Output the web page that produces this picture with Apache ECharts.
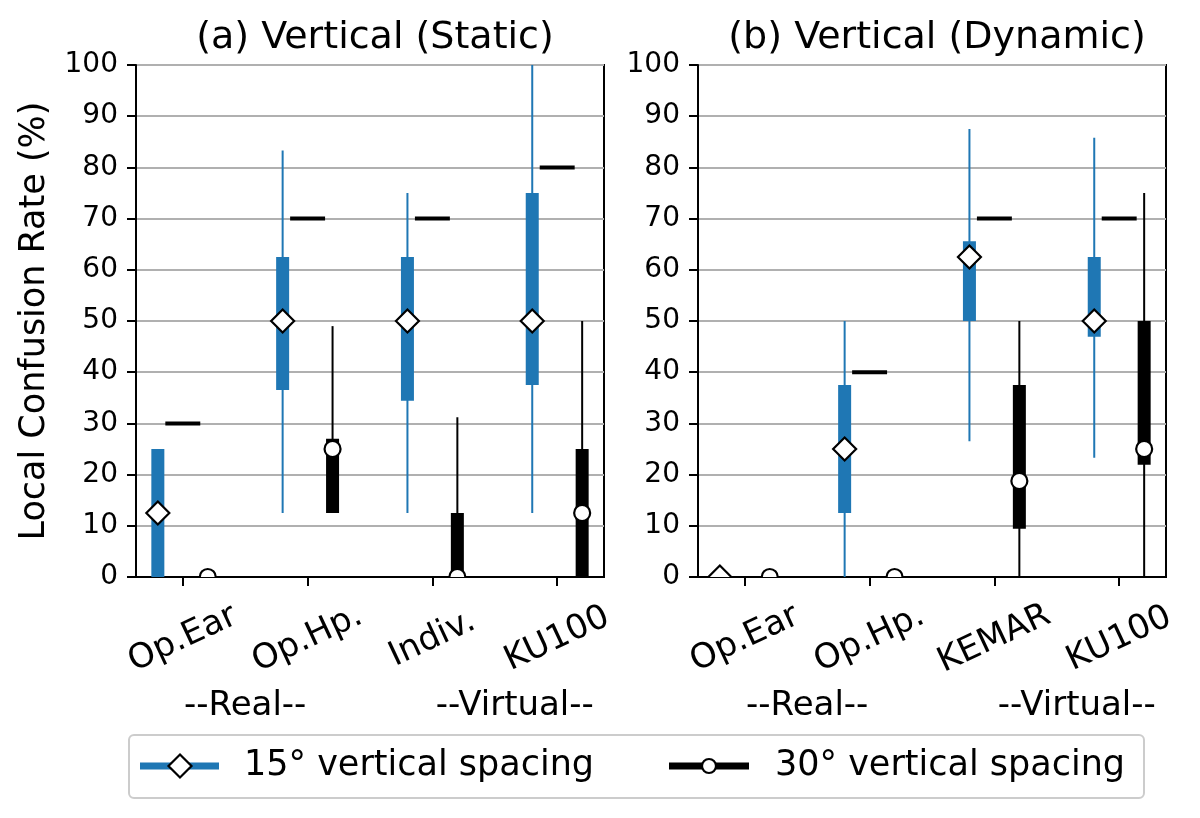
<!DOCTYPE html>
<html>
<head>
<meta charset="utf-8">
<script src="https://cdn.jsdelivr.net/npm/echarts@6/dist/echarts.min.js"></script>
<style>
html,body{margin:0;padding:0;background:#fff;}
#chart{width:1200px;height:818px;}
</style>
</head>
<body>
<div id="chart"></div>
<script>
// ---------- data ----------
const catsStatic = ['Op.Ear', 'Op.Hp.', 'Indiv.', 'KU100'];
const catsDynamic = ['Op.Ear', 'Op.Hp.', 'KEMAR', 'KU100'];
const groupTicks = [0.5, 2.66];
const groupLabels = ['--Real--', '--Virtual--'];
const yTicks = [0, 10, 20, 30, 40, 50, 60, 70, 80, 90, 100];
const titles = ['(a) Vertical (Static)', '(b) Vertical (Dynamic)'];
const seriesNames = ['15° vertical spacing', '30° vertical spacing'];

// (a) Static, 15° spacing
const s15_whiskerLo = [0, 12.5, 12.5, 12.5];
const s15_whiskerHi = [25, 83.3, 75, 100];
const s15_boxLo     = [0, 36.5, 34.4, 37.5];
const s15_boxHi     = [25, 62.5, 62.5, 75];
const s15_median    = [12.5, 50, 50, 50];
// (a) Static, 30° spacing
const s30_whiskerLo = [0, 12.5, 0, 0];
const s30_whiskerHi = [0, 49, 31.2, 50];
const s30_boxLo     = [0, 12.5, 0, 0];
const s30_boxHi     = [0, 27, 12.5, 25];
const s30_median    = [0, 25, 0, 12.5];
const sRef          = [30, 70, 70, 80];

// (b) Dynamic, 15° spacing
const d15_whiskerLo = [0, 0, 26.5, 23.3];
const d15_whiskerHi = [0, 50, 87.5, 85.8];
const d15_boxLo     = [0, 12.5, 50, 46.9];
const d15_boxHi     = [0, 37.5, 65.6, 62.5];
const d15_median    = [0, 25, 62.5, 50];
// (b) Dynamic, 30° spacing
const d30_whiskerLo = [0, 0, 0, 0];
const d30_whiskerHi = [0, 0, 50, 75];
const d30_boxLo     = [0, 0, 9.4, 21.9];
const d30_boxHi     = [0, 0, 37.5, 50];
const d30_median    = [0, 0, 18.75, 25];
const dRef          = [null, 40, 70, 70];

// ---------- style ----------
const FONT = 'DejaVu Sans';
const BLUE = '#1f77b4';
const OFF = 0.2;       // horizontal offset of each group from category
const BOXW = 13;       // px
const REFHALF = 0.14;  // half width of reference dash (axis units)

function build(n, wl, wh, bl, bh, md, off) {
  const out = [];
  for (let i = 0; i < n; i++) out.push([i + off, wl[i], wh[i], bl[i], bh[i], md[i]]);
  return out;
}

function statRender(color, marker) {
  return function (params, api) {
    const x = api.value(0);
    const wl = api.value(1), wh = api.value(2), bl = api.value(3), bh = api.value(4), md = api.value(5);
    const pWh = api.coord([x, wh]), pWl = api.coord([x, wl]);
    const pBh = api.coord([x, bh]), pBl = api.coord([x, bl]);
    const pM = api.coord([x, md]);
    const ch = [];
    if (wh > wl) ch.push({type: 'line', shape: {x1: pWh[0], y1: pWh[1], x2: pWl[0], y2: pWl[1]},
      style: {stroke: color, lineWidth: 2}});
    if (bh > bl) ch.push({type: 'rect', shape: {x: pBh[0] - BOXW / 2, y: pBh[1], width: BOXW, height: pBl[1] - pBh[1]},
      style: {fill: color}});
    if (marker === 'diamond') {
      const r = 11.5;
      ch.push({type: 'polygon', shape: {points: [[pM[0], pM[1] - r], [pM[0] + r, pM[1]], [pM[0], pM[1] + r], [pM[0] - r, pM[1]]]},
        style: {fill: '#fff', stroke: '#000', lineWidth: 2.2}, z2: 10});
    } else {
      ch.push({type: 'circle', shape: {cx: pM[0], cy: pM[1], r: 8}, style: {fill: '#fff', stroke: '#000', lineWidth: 2.2}, z2: 10});
    }
    return {type: 'group', children: ch};
  };
}

function refRender(params, api) {
  const x = api.value(0), v = api.value(1);
  const a = api.coord([x - REFHALF, v]), b = api.coord([x + REFHALF, v]);
  return {type: 'line', shape: {x1: a[0], y1: a[1], x2: b[0], y2: b[1]}, style: {stroke: '#000', lineWidth: 4}};
}

function refData(arr) {
  const out = [];
  arr.forEach((v, i) => { if (v !== null) out.push([i, v]); });
  return out;
}

const grids = [
  {left: 136, top: 65, width: 468, height: 512, show: true, borderColor: '#000', borderWidth: 2, backgroundColor: 'transparent'},
  {left: 698, top: 65, width: 468, height: 512, show: true, borderColor: '#000', borderWidth: 2, backgroundColor: 'transparent'}
];

function catAxis(gi, cats) {
  return {
    type: 'value', gridIndex: gi, min: -0.375, max: 3.375,
    axisLine: {show: true, onZero: false, lineStyle: {color: '#000', width: 2}},
    axisTick: {show: true, customValues: [0, 1, 2, 3], length: 9, lineStyle: {color: '#000', width: 2}},
    axisLabel: {show: true, customValues: [0, 1, 2, 3], formatter: v => cats[Math.round(v)],
      rotate: 25, align: 'center', verticalAlign: 'middle', margin: 62,
      fontFamily: FONT, fontSize: 34, color: '#000'},
    splitLine: {show: false}
  };
}
function groupAxis(gi) {
  return {
    type: 'value', gridIndex: gi, min: -0.375, max: 3.375, position: 'bottom',
    axisLine: {show: false, onZero: false}, axisTick: {show: false}, splitLine: {show: false},
    axisLabel: {show: true, customValues: groupTicks,
      formatter: v => groupLabels[v < 1.5 ? 0 : 1],
      align: 'center', verticalAlign: 'middle', margin: 129,
      fontFamily: FONT, fontSize: 34, color: '#000'}
  };
}
function yAx(gi, withName) {
  const ax = {
    type: 'value', gridIndex: gi, min: 0, max: 100, interval: 10, position: 'left',
    axisLine: {show: true, onZero: false, lineStyle: {color: '#000', width: 2}},
    axisTick: {show: true, length: 9, lineStyle: {color: '#000', width: 2}},
    axisLabel: {fontFamily: FONT, fontSize: 28, color: '#000', margin: 18,
      formatter: v => (yTicks.indexOf(v) >= 0 ? String(v) : '')},
    splitLine: {show: true, lineStyle: {color: '#b0b0b0', width: 2}}
  };
  if (withName) {
    Object.assign(ax, {name: 'Local Confusion Rate (%)', nameLocation: 'middle', nameGap: 84,
      nameTextStyle: {fontFamily: FONT, fontSize: 35, color: '#000'}});
  }
  return ax;
}

const series = [];
function addPanel(gi, ref, d15, d30) {
  series.push({type: 'custom', name: seriesNames[0], xAxisIndex: gi * 2, yAxisIndex: gi, clip: true,
    renderItem: statRender(BLUE, 'diamond'), data: d15, z: 3});
  series.push({type: 'custom', name: seriesNames[1], xAxisIndex: gi * 2, yAxisIndex: gi, clip: true,
    renderItem: statRender('#000', 'circle'), data: d30, z: 3});
  series.push({type: 'custom', name: 'ref', xAxisIndex: gi * 2, yAxisIndex: gi, clip: true,
    renderItem: refRender, data: refData(ref), z: 2});
}
addPanel(0, sRef,
  build(4, s15_whiskerLo, s15_whiskerHi, s15_boxLo, s15_boxHi, s15_median, -OFF),
  build(4, s30_whiskerLo, s30_whiskerHi, s30_boxLo, s30_boxHi, s30_median, OFF));
addPanel(1, dRef,
  build(4, d15_whiskerLo, d15_whiskerHi, d15_boxLo, d15_boxHi, d15_median, -OFF),
  build(4, d30_whiskerLo, d30_whiskerHi, d30_boxLo, d30_boxHi, d30_median, OFF));

// legend drawn as graphic (line + marker + text)
const LY = 766;
const legendGraphic = {
  type: 'group', children: [
    {type: 'rect', shape: {x: 129, y: 735, width: 1015, height: 63, r: 5}, style: {fill: '#fff', stroke: '#cccccc', lineWidth: 2}},
    {type: 'line', shape: {x1: 140, y1: LY, x2: 219, y2: LY}, style: {stroke: BLUE, lineWidth: 7}},
    {type: 'polygon', shape: {points: [[180, LY - 11.5], [191.5, LY], [180, LY + 11.5], [168.5, LY]]}, style: {fill: '#fff', stroke: '#000', lineWidth: 2.2}},
    {type: 'text', x: 244, y: LY, style: {text: seriesNames[0], fontFamily: FONT, fontSize: 35, fill: '#000', verticalAlign: 'middle', align: 'left'}},
    {type: 'line', shape: {x1: 669, y1: LY, x2: 749, y2: LY}, style: {stroke: '#000', lineWidth: 7}},
    {type: 'circle', shape: {cx: 709, cy: LY, r: 7}, style: {fill: '#fff', stroke: '#000', lineWidth: 2.2}},
    {type: 'text', x: 775, y: LY, style: {text: seriesNames[1], fontFamily: FONT, fontSize: 35, fill: '#000', verticalAlign: 'middle', align: 'left'}}
  ]
};

const option = {
  animation: false,
  backgroundColor: '#fff',
  title: [
    {text: titles[0], left: 370, top: 14, textAlign: 'center', textStyle: {fontFamily: FONT, fontSize: 38, fontWeight: 'normal', color: '#000'}},
    {text: titles[1], left: 932, top: 14, textAlign: 'center', textStyle: {fontFamily: FONT, fontSize: 38, fontWeight: 'normal', color: '#000'}}
  ],
  grid: grids,
  xAxis: [catAxis(0, catsStatic), groupAxis(0), catAxis(1, catsDynamic), groupAxis(1)],
  yAxis: [yAx(0, true), yAx(1, false)],
  series: series,
  graphic: [legendGraphic]
};

const chart = echarts.init(document.getElementById('chart'), null, {renderer: 'canvas'});
chart.setOption(option);
</script>
</body>
</html>
